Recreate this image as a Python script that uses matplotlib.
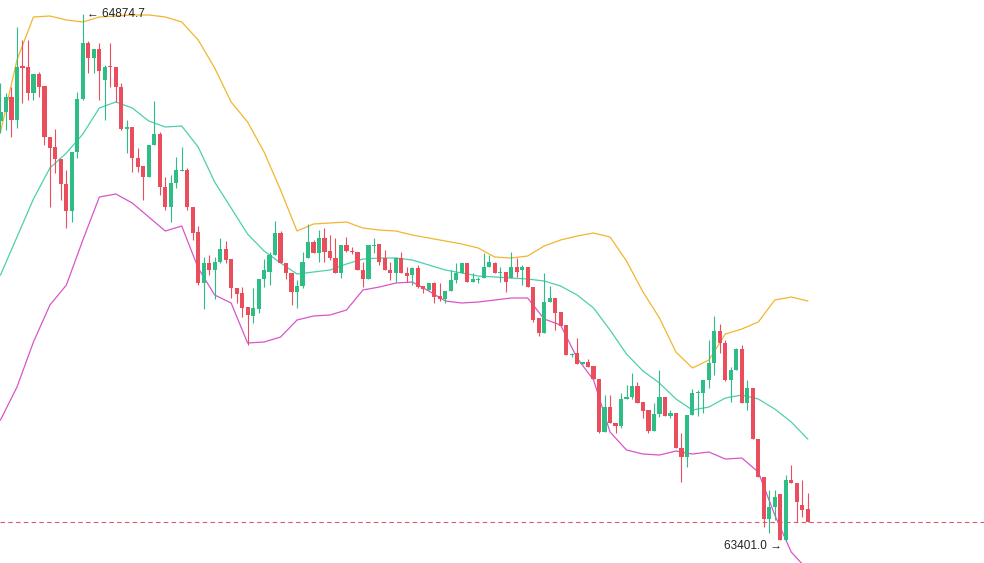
import numpy as np
import matplotlib
matplotlib.use("Agg")
import matplotlib.pyplot as plt

# OHLC, one candle per bar
opens = [64575.5, 64600.6, 64642.6, 64578.3, 64729.3, 64726.5, 64653.8, 64706.9, 64673.3, 64530.7,
         64502.8, 64469.2, 64399.3, 64323.8, 64488.8, 64637.0, 64793.6, 64751.6, 64776.8, 64690.1,
         64729.3, 64726.5, 64670.5, 64553.1, 64558.7, 64472.0, 64449.7, 64418.9, 64508.4, 64539.1,
         64390.9, 64335.0, 64402.1, 64435.7, 64438.5, 64335.0, 64265.1, 64122.5, 64178.5, 64158.9,
         64181.2, 64217.6, 64189.6, 64108.6, 64094.6, 64055.4, 64030.3, 64049.8, 64133.7, 64153.3,
         64200.8, 64262.3, 64178.5, 64150.5, 64097.4, 64114.1, 64192.4, 64237.2, 64206.4, 64248.4,
         64212.0, 64192.4, 64150.5, 64228.8, 64212.0, 64209.2, 64158.9, 64133.7, 64226.0, 64231.6,
         64192.4, 64158.9, 64150.5, 64192.4, 64150.5, 64144.9, 64164.5, 64114.1, 64103.0, 64122.5,
         64086.2, 64077.8, 64100.2, 64130.9, 64150.5, 64178.5, 64125.3, 64130.9, 64136.5, 64167.3,
         64178.5, 64150.5, 64153.3, 64136.5, 64167.3, 64158.9, 64167.3, 64111.3, 64024.7, 63982.7,
         64069.4, 64080.6, 64041.4, 64005.1, 63921.2, 63926.8, 63896.1, 63901.6, 63890.5, 63854.1,
         63705.9, 63775.8, 63731.1, 63722.7, 63798.2, 63803.8, 63834.5, 63789.8, 63767.4, 63708.7,
         63756.3, 63803.8, 63750.7, 63759.1, 63661.2, 63636.0, 63753.5, 63815.0, 63815.0, 63851.3,
         63898.8, 63988.3, 63954.8, 63851.3, 63879.3, 63938.0, 63787.0, 63829.0, 63686.4, 63580.1,
         63462.7, 63496.2, 63532.6, 63404.0, 63571.7, 63563.3, 63501.8, 63490.6]
highs = [64681.7, 64653.8, 64670.5, 64838.3, 64802.0, 64802.0, 64706.9, 64712.5, 64673.3, 64530.7,
         64553.1, 64469.2, 64438.5, 64488.8, 64656.6, 64874.7, 64799.2, 64776.8, 64793.6, 64732.1,
         64793.6, 64726.5, 64681.7, 64578.3, 64558.7, 64500.0, 64449.7, 64508.4, 64631.4, 64544.7,
         64418.9, 64424.5, 64474.8, 64502.8, 64444.1, 64335.0, 64281.9, 64195.2, 64200.8, 64195.2,
         64248.4, 64240.0, 64189.6, 64108.6, 64111.3, 64055.4, 64108.6, 64133.7, 64189.6, 64209.2,
         64295.9, 64267.9, 64178.5, 64150.5, 64130.9, 64209.2, 64287.5, 64242.8, 64270.7, 64276.3,
         64256.7, 64248.4, 64228.8, 64251.1, 64223.2, 64209.2, 64181.2, 64228.8, 64248.4, 64231.6,
         64214.8, 64181.2, 64195.2, 64209.2, 64167.3, 64167.3, 64172.9, 64114.1, 64122.5, 64125.3,
         64122.5, 64100.2, 64158.9, 64178.5, 64178.5, 64178.5, 64150.5, 64139.3, 64206.4, 64200.8,
         64181.2, 64167.3, 64153.3, 64209.2, 64192.4, 64172.9, 64167.3, 64111.3, 64024.7, 64150.5,
         64114.1, 64080.6, 64041.4, 64005.1, 63926.8, 63968.8, 63901.6, 63910.0, 63890.5, 63854.1,
         63809.4, 63809.4, 63731.1, 63815.0, 63837.3, 63870.9, 63845.7, 63789.8, 63767.4, 63787.0,
         63879.3, 63803.8, 63767.4, 63759.1, 63703.1, 63753.5, 63826.2, 63823.4, 63851.3, 63963.2,
         64030.3, 64007.9, 63963.2, 63887.7, 63940.8, 63949.2, 63851.3, 63829.0, 63686.4, 63580.1,
         63543.8, 63543.8, 63532.6, 63585.7, 63613.7, 63563.3, 63571.7, 63535.4]
lows = [64541.9, 64550.3, 64530.7, 64555.9, 64625.8, 64634.2, 64634.2, 64642.6, 64508.4, 64335.0,
        64430.1, 64354.6, 64276.3, 64293.1, 64472.0, 64634.2, 64709.7, 64709.7, 64634.2, 64578.3,
        64670.5, 64628.6, 64550.3, 64486.0, 64432.9, 64432.9, 64354.6, 64418.9, 64508.4, 64368.6,
        64326.6, 64293.1, 64388.2, 64435.7, 64326.6, 64242.8, 64116.9, 64049.8, 64144.9, 64077.8,
        64178.5, 64178.5, 64080.6, 64066.6, 64027.5, 63949.2, 64010.7, 64038.7, 64111.3, 64116.9,
        64200.8, 64178.5, 64133.7, 64061.0, 64052.6, 64108.6, 64192.4, 64206.4, 64181.2, 64181.2,
        64186.8, 64150.5, 64136.5, 64209.2, 64203.6, 64158.9, 64111.3, 64133.7, 64206.4, 64172.9,
        64158.9, 64130.9, 64125.3, 64150.5, 64125.3, 64116.9, 64108.6, 64094.6, 64103.0, 64066.6,
        64072.2, 64066.6, 64100.2, 64122.5, 64150.5, 64125.3, 64125.3, 64122.5, 64136.5, 64167.3,
        64150.5, 64125.3, 64097.4, 64136.5, 64139.3, 64116.9, 64111.3, 64013.5, 63974.3, 63982.7,
        64069.4, 63991.1, 64002.3, 63921.2, 63915.6, 63896.1, 63896.1, 63887.7, 63854.1, 63703.1,
        63705.9, 63731.1, 63703.1, 63717.1, 63798.2, 63798.2, 63787.0, 63745.1, 63703.1, 63708.7,
        63747.9, 63750.7, 63745.1, 63661.2, 63566.1, 63608.1, 63753.5, 63750.7, 63759.1, 63829.0,
        63865.3, 63926.8, 63848.5, 63789.8, 63879.3, 63787.0, 63767.4, 63686.4, 63580.1, 63440.3,
        63423.5, 63459.9, 63404.0, 63401.0, 63563.3, 63454.3, 63468.3, 63454.3]
closes = [64600.6, 64642.6, 64578.3, 64726.5, 64723.7, 64653.8, 64706.9, 64670.5, 64530.7, 64500.0,
          64469.2, 64399.3, 64323.8, 64488.8, 64637.0, 64793.6, 64751.6, 64776.8, 64715.3, 64726.5,
          64726.5, 64670.5, 64553.1, 64558.7, 64472.0, 64446.9, 64418.9, 64508.4, 64539.1, 64390.9,
          64335.0, 64402.1, 64438.5, 64438.5, 64335.0, 64262.3, 64122.5, 64178.5, 64158.9, 64181.2,
          64217.6, 64186.8, 64108.6, 64091.8, 64052.6, 64033.1, 64052.6, 64133.7, 64158.9, 64200.8,
          64262.3, 64178.5, 64150.5, 64097.4, 64114.1, 64181.2, 64237.2, 64206.4, 64248.4, 64209.2,
          64192.4, 64150.5, 64228.8, 64212.0, 64209.2, 64158.9, 64133.7, 64228.8, 64228.8, 64181.2,
          64158.9, 64150.5, 64192.4, 64150.5, 64142.1, 64164.5, 64111.3, 64105.8, 64122.5, 64083.4,
          64077.8, 64100.2, 64130.9, 64150.5, 64178.5, 64125.3, 64133.7, 64133.7, 64167.3, 64181.2,
          64150.5, 64153.3, 64125.3, 64167.3, 64153.3, 64167.3, 64111.3, 64019.1, 63982.7, 64069.4,
          64080.6, 64038.7, 64002.3, 63921.2, 63924.0, 63896.1, 63901.6, 63887.7, 63854.1, 63705.9,
          63775.8, 63731.1, 63722.7, 63798.2, 63803.8, 63834.5, 63787.0, 63764.6, 63708.7, 63756.3,
          63803.8, 63750.7, 63759.1, 63661.2, 63636.0, 63753.5, 63815.0, 63817.8, 63851.3, 63898.8,
          63988.3, 63954.8, 63851.3, 63879.3, 63938.0, 63787.0, 63829.0, 63686.4, 63580.1, 63462.7,
          63496.2, 63524.2, 63404.0, 63571.7, 63563.3, 63510.2, 63487.8, 63454.3]

# Bollinger bands, read every third candle
band_idx = list(range(0, 148, 3))
upper = [64544.7, 64746.0, 64866.3, 64869.1, 64857.9, 64852.3, 64866.3, 64869.1, 64871.9, 64871.9,
         64866.3, 64852.3, 64802.0, 64723.7, 64628.6, 64572.7, 64488.8, 64382.6, 64267.9, 64287.5,
         64290.3, 64293.1, 64276.3, 64270.7, 64267.9, 64256.7, 64248.4, 64240.0, 64231.6, 64220.4,
         64195.2, 64192.4, 64198.0, 64226.0, 64242.8, 64253.9, 64262.3, 64251.1, 64184.0, 64097.4,
         64024.7, 63929.6, 63884.9, 63907.2, 63979.9, 63993.9, 64013.5, 64075.0, 64083.4, 64072.2]
middle = [64144.9, 64251.1, 64357.4, 64444.1, 64486.0, 64539.1, 64611.8, 64628.6, 64611.8, 64575.5,
          64558.7, 64561.5, 64502.8, 64404.9, 64332.2, 64259.5, 64212.0, 64178.5, 64147.7, 64153.3,
          64158.9, 64175.7, 64189.6, 64192.4, 64192.4, 64186.8, 64172.9, 64158.9, 64150.5, 64142.1,
          64139.3, 64136.5, 64133.7, 64128.1, 64114.1, 64089.0, 64052.6, 63991.1, 63924.0, 63876.5,
          63842.9, 63798.2, 63767.4, 63775.8, 63801.0, 63809.4, 63798.2, 63770.2, 63733.9, 63686.4]
lower = [63739.5, 63831.7, 63957.6, 64061.0, 64116.9, 64242.8, 64363.0, 64371.4, 64346.2, 64307.1,
         64267.9, 64281.9, 64164.5, 64089.0, 64066.6, 63954.8, 63957.6, 63971.5, 64019.1, 64030.3,
         64033.1, 64047.0, 64103.0, 64111.3, 64122.5, 64125.3, 64100.2, 64072.2, 64066.6, 64069.4,
         64075.0, 64080.6, 64080.6, 64021.9, 64005.1, 63912.8, 63851.3, 63705.9, 63655.6, 63644.4,
         63641.6, 63652.8, 63644.4, 63650.0, 63630.4, 63633.2, 63594.1, 63473.9, 63370.4, 63320.1]

GREEN = "#2ebd85"
RED = "#ea4d5c"

o = np.array(opens)
h = np.array(highs)
l = np.array(lows)
c = np.array(closes)
x = np.arange(len(o))
cols = np.where(c >= o, GREEN, RED)

fig = plt.figure(figsize=(9.84, 5.63), dpi=100)
ax = fig.add_axes([0, 0, 1, 1])
ax.set_axis_off()

# bands
ax.plot(band_idx, upper, color="#f3b52f", lw=0.9, zorder=1, solid_joinstyle="round")
ax.plot(band_idx, middle, color="#4dcfae", lw=0.9, zorder=1, solid_joinstyle="round")
ax.plot(band_idx, lower, color="#d955c9", lw=0.9, zorder=1, solid_joinstyle="round")

# candles
ax.vlines(x, l, h, colors=cols, lw=0.8, zorder=2)
body_lo = np.minimum(o, c)
body_h = np.maximum(np.abs(c - o), 2.0)
ax.bar(x, body_h, bottom=body_lo, width=0.76, color=cols, zorder=3, linewidth=0)

# last price line
ax.axhline(c[-1], color="#e0566a", lw=0.8, linestyle=(0, (4, 3)), zorder=1)

# high / low markers
font = ["Liberation Sans", "DejaVu Sans"]
ih = int(np.argmax(h))
il = int(np.argmin(l))
ax.annotate("\u2190 %.1f" % h[ih], (ih, h[ih]), xytext=(3, 0), textcoords="offset points",
            ha="left", va="center", fontsize=8.5, color="#222222", family=font)
ax.annotate("%.1f \u2192" % l[il], (il, l[il]), xytext=(-3, -3.5), textcoords="offset points",
            ha="right", va="center", fontsize=8.5, color="#222222", family=font)

ax.set_xlim(-0.09, 179.1)
ax.set_ylim(63339.7, 64913.8)

fig.savefig("out.png", dpi=100)
